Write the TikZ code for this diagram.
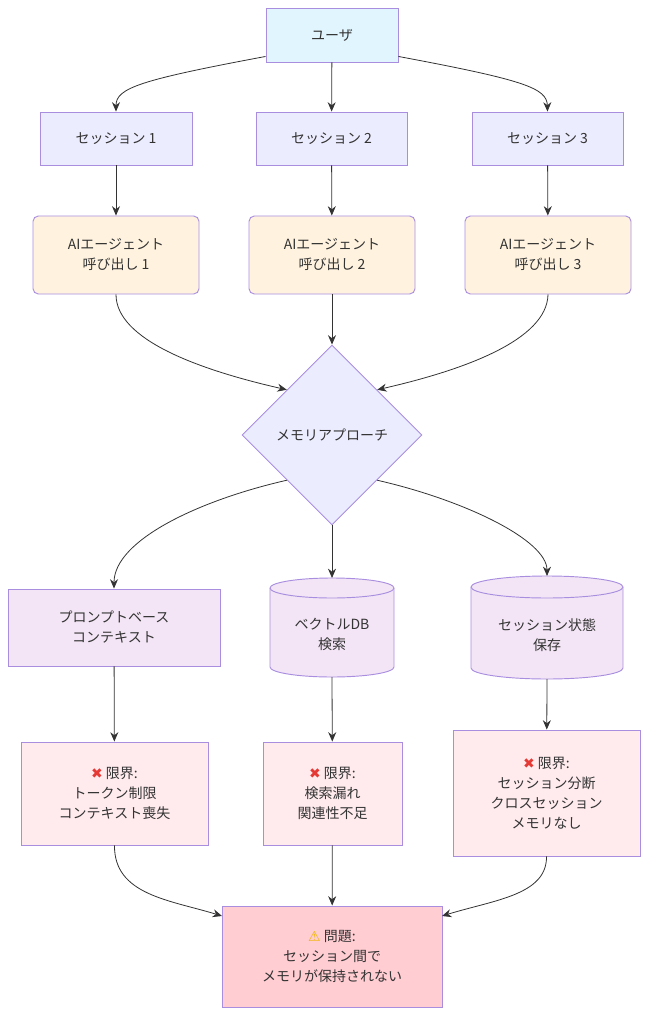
\documentclass[tikz,border=0pt]{standalone}
\usepackage{fontspec}
\setmainfont{Noto Sans CJK JP}
\newfontfamily\emo{DejaVu Sans}
\usetikzlibrary{shapes.geometric,arrows.meta}
\definecolor{bd}{HTML}{A98EE0}
\definecolor{fuser}{HTML}{E1F5FE}
\definecolor{fsess}{HTML}{ECECFF}
\definecolor{fai}{HTML}{FFF3E0}
\definecolor{fmeth}{HTML}{F3E5F5}
\definecolor{flim}{HTML}{FFEBEE}
\definecolor{fprob}{HTML}{FFCDD2}
\definecolor{tx}{HTML}{333333}
\newcommand{\xmk}{{\emo\textcolor[HTML]{E53935}{✖}}}
\begin{document}
\begin{tikzpicture}[x=0.75pt,y=-0.75pt,
  every node/.style={font=\fontsize{10.5}{15}\selectfont,text=tx,align=center},
  box/.style={draw=bd,line width=0.7pt,inner sep=0pt},
  ar/.style={draw=tx,line width=0.6pt,-{Stealth[length=7pt,width=6pt]}}]
\useasboundingbox (0,0) rectangle (649,1016);
\newcommand{\bx}[6]{\node[box,fill=#6,minimum width={(#4-#2)*0.75pt},minimum height={(#5-#3)*0.75pt},#1] at ({(#2+#4)/2},{(#3+#5)/2})}
\bx{}{266}{8}{398}{62}{fuser} (u) {ユーザ};
\bx{}{40}{112}{192}{165}{fsess} (s1) {セッション 1};
\bx{}{256}{112}{407}{165}{fsess} (s2) {セッション 2};
\bx{}{472}{112}{623}{165}{fsess} (s3) {セッション 3};
\bx{rounded corners=4pt}{33}{216}{199}{294}{fai} (a1) {AIエージェント\\呼び出し 1};
\bx{rounded corners=4pt}{249}{216}{415}{294}{fai} (a2) {AIエージェント\\呼び出し 2};
\bx{rounded corners=4pt}{465}{216}{631}{294}{fai} (a3) {AIエージェント\\呼び出し 3};
\node[box,diamond,fill=fsess,minimum width=135pt,minimum height=135pt] (d) at (332,435) {メモリアプローチ};
\bx{}{8}{589}{220}{666}{fmeth} (p) {プロンプトベース\\コンテキスト};
% cylinders
\filldraw[draw=bd,fill=fmeth,line width=0.7pt] (270,588) -- (270,667) arc[start angle=180,end angle=0,x radius=62,y radius=10] -- (394,588) arc[start angle=0,end angle=-180,x radius=62,y radius=10] -- cycle;
\draw[bd,line width=0.7pt] (270,588) arc[start angle=180,end angle=0,x radius=62,y radius=10];
\node (v) at (332,634) {ベクトルDB\\検索};
\coordinate (vt) at (332,578); \coordinate (vb) at (332,677);
\filldraw[draw=bd,fill=fmeth,line width=0.7pt] (471,587) -- (471,668) arc[start angle=180,end angle=0,x radius=76,y radius=11] -- (623,587) arc[start angle=0,end angle=-180,x radius=76,y radius=11] -- cycle;
\draw[bd,line width=0.7pt] (471,587) arc[start angle=180,end angle=0,x radius=76,y radius=11];
\node (sv) at (547,635) {セッション状態\\保存};
\coordinate (st) at (547,576); \coordinate (sb) at (547,679);
% limits
\bx{}{21}{742}{208}{845}{flim} (l1) {\xmk\ 限界:\\トークン制限\\コンテキスト喪失};
\bx{}{263}{742}{402}{845}{flim} (l2) {\xmk\ 限界:\\検索漏れ\\関連性不足};
\bx{}{453}{730}{640}{856}{flim} (l3) {\xmk\ 限界:\\セッション分断\\クロスセッション\\メモリなし};
\bx{}{222}{906}{442}{1007}{fprob} (pr) {{\emo\textcolor[HTML]{F2B400}{⚠}} 問題:\\セッション間で\\メモリが保持されない};
\coordinate (prl) at (222,916); \coordinate (prr) at (442,916);
% edges
\draw[ar] (u.south west) ++(0,-6) .. controls (140,80) and (116,88) .. (s1.north);
\draw[ar] (u) -- (s2);
\draw[ar] (u.south east) ++(0,-6) .. controls (524,80) and (547,88) .. (s3.north);
\draw[ar] (s1) -- (a1); \draw[ar] (s2) -- (a2); \draw[ar] (s3) -- (a3);
\draw[ar] (a1.south) .. controls (116,340) and (200,370) .. (d.north west);
\draw[ar] (a2) -- (d);
\draw[ar] (a3.south) .. controls (547,340) and (464,370) .. (d.north east);
\draw[ar] (d.south west) .. controls (200,500) and (114,540) .. (p.north);
\draw[ar] (d) -- (vt);
\draw[ar] (d.south east) .. controls (464,500) and (547,540) .. (st);
\draw[ar] (p) -- (l1); \draw[ar] (vb) -- (l2); \draw[ar] (sb) -- (l3);
\draw[ar] (l1.south) .. controls (114,895) and (170,900) .. (prl);
\draw[ar] (l2) -- (pr);
\draw[ar] (l3.south) .. controls (547,895) and (494,900) .. (prr);
\end{tikzpicture}
\end{document}
